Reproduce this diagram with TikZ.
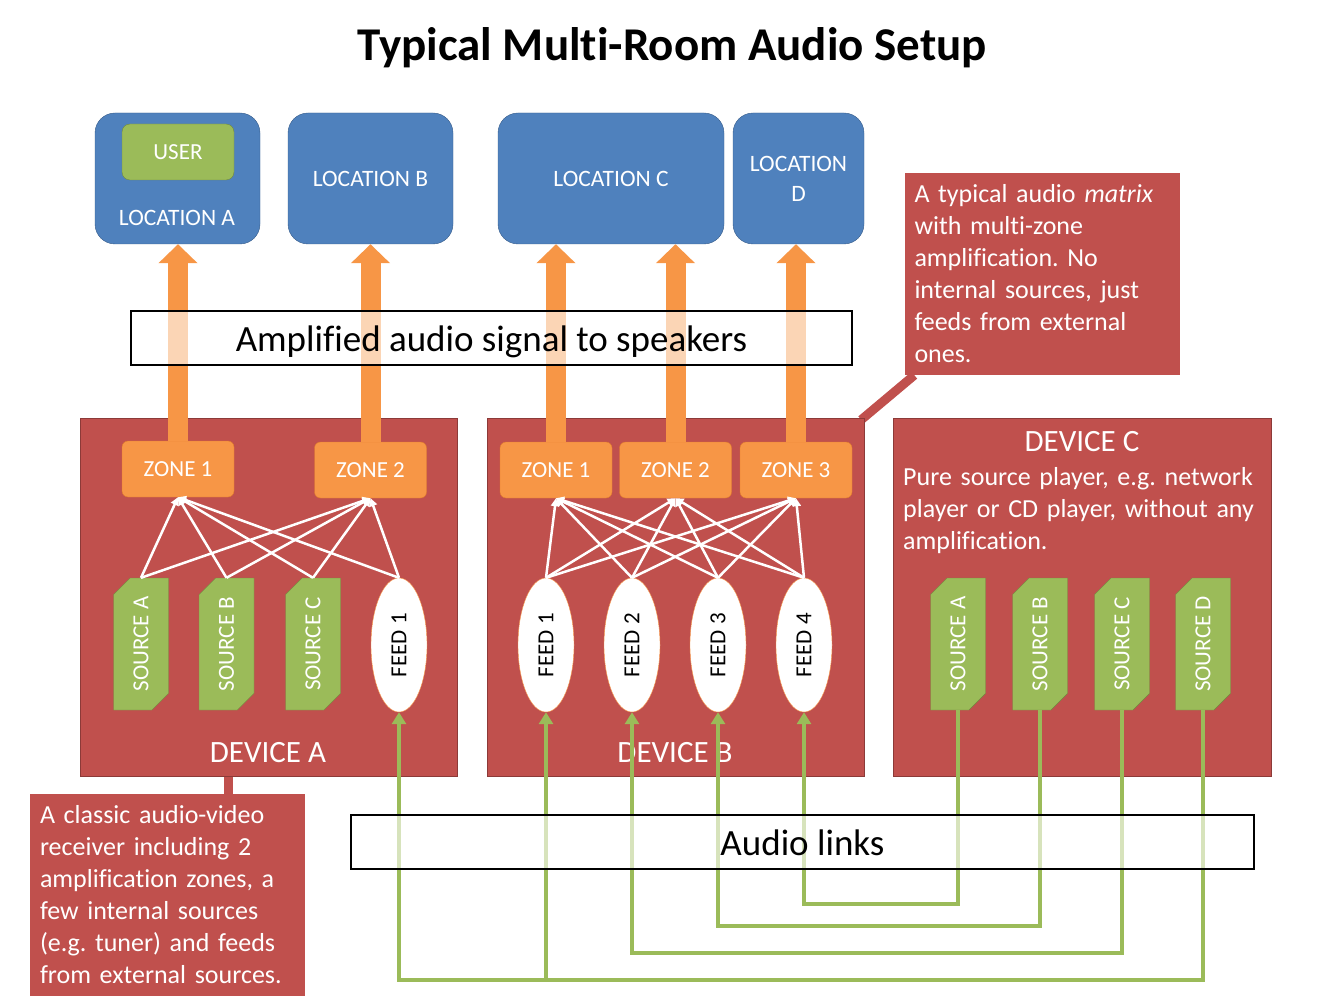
\documentclass[tikz,border=0pt]{standalone}
\usepackage{fontspec}
\setmainfont{Carlito}[Ligatures=NoCommon]
\usetikzlibrary{arrows.meta,shapes.geometric,shapes.misc,positioning,calc,backgrounds}
\definecolor{devred}{HTML}{C0504D}
\definecolor{devredline}{HTML}{8C3A38}
\definecolor{locblue}{HTML}{4F81BD}
\definecolor{locblueline}{HTML}{385D8A}
\definecolor{srcgreen}{HTML}{9BBB59}
\definecolor{srcgreenline}{HTML}{71893F}
\definecolor{zoneorange}{HTML}{F79646}
\definecolor{zoneorangeline}{HTML}{E07B2C}
\frenchspacing

\begin{document}
\begin{tikzpicture}[x=1pt,y=-1pt]

\tikzset{locnode/.style={draw=locblueline,fill=locblue,rounded corners=20pt,text=white,font=\fontsize{23.5}{30}\selectfont,inner sep=0pt,minimum height=131pt,align=center},
usernode/.style={draw=srcgreenline,fill=srcgreen,rounded corners=8pt,text=white,font=\fontsize{23}{28}\selectfont,inner sep=0pt,minimum width=112pt,minimum height=56pt},
devnode/.style={draw=devredline,fill=devred,inner sep=0pt,minimum width=377pt,minimum height=358pt},
devtext/.style={text=white,font=\fontsize{31}{36}\selectfont,inner sep=0pt},
zonenode/.style={draw=zoneorangeline,fill=zoneorange,rounded corners=6pt,text=white,font=\fontsize{23}{28}\selectfont,inner sep=0pt,minimum width=112pt,minimum height=56pt},
srcnode/.style={chamfered rectangle,chamfered rectangle corners={north east,south west},chamfered rectangle xsep=9pt,chamfered rectangle ysep=9pt,draw=srcgreenline,fill=srcgreen,text=white,font=\fontsize{23}{28}\selectfont,inner sep=0pt,minimum width=132pt,minimum height=55pt,rotate=90},
feednode/.style={ellipse,draw=zoneorange,fill=white,text=black,font=\fontsize{23}{28}\selectfont,inner sep=0pt,minimum width=134pt,minimum height=56pt,rotate=90},
labelbox/.style={draw=black,line width=2pt,fill=white,fill opacity=0.6,text opacity=1,font=\fontsize{37}{40}\selectfont,inner sep=0pt,text height=33pt,text depth=7pt,minimum height=54pt},
callnode/.style={fill=devred,text=white,font=\fontsize{26}{32}\selectfont,align=left,inner xsep=10pt,inner ysep=0pt,text width=255pt,minimum height=202pt},
callptr/.style={draw=devred,line width=9pt},
mixlink/.style={draw=white,line width=2.5pt,-{Triangle[length=8pt,width=8pt]}},
amparrow/.style={draw=zoneorange,line width=20pt,-{Triangle[length=19pt,width=38pt]}},
feedlink/.style={draw=srcgreen,line width=4pt,-{Triangle[length=12pt,width=14pt]}}}

\useasboundingbox (0,0) rectangle (1344,1008);

% Title
\node[font=\fontsize{47}{52}\selectfont\bfseries] (title) at (672,48) {Typical Multi-Room Audio Setup};

% Locations
\node[locnode,minimum width=165pt] (locA) at (177.5,178.5) {};
\node[usernode] (user) at (178,152) {USER};
\node[text=white,font=\fontsize{23.5}{28}\selectfont,inner sep=0pt] (locAtext) at (177,218) {LOCATION A};
\node[locnode,minimum width=165pt] (locB) at (370.5,178.5) {LOCATION B};
\node[locnode,minimum width=226pt] (locC) at (611,178.5) {LOCATION C};
\node[locnode,minimum width=131pt] (locD) at (798.5,178.5) {LOCATION\\D};

% Devices
\node[devnode] (devA) at (268.5,597) {};
\node[devnode] (devB) at (675.5,597) {};
\node[devnode,minimum width=378pt] (devC) at (1082,597) {};
\node[devtext] (devAtext) at (268,753) {DEVICE A};
\node[devtext] (devBtext) at (675,753) {DEVICE B};
\node[devtext] (devCtext) at (1082,442) {DEVICE C};
\node[text=white,font=\fontsize{26}{32}\selectfont,text width=370pt,align=left,inner sep=0pt,anchor=north west] (devCinfo) at (903,467) {Pure source player, e.g. network\\player or CD player, without any\\amplification.};

% Zones
\node[zonenode] (zA1) at (178,469) {ZONE 1};
\node[zonenode] (zA2) at (370.5,470) {ZONE 2};
\foreach \i/\x in {1/556,2/675.5,3/796} \node[zonenode] (zB\i) at (\x,470) {ZONE \i};

% Sources and feeds (rotated: east is the top, west the bottom)
\foreach \i/\x/\n in {1/141/A,2/226.5/B,3/313/C} \node[srcnode] (sA\i) at (\x,644) {SOURCE \n};
\node[feednode] (fA1) at (399,645) {FEED 1};
\foreach \i/\x in {1/546,2/632,3/718,4/804} \node[feednode] (fB\i) at (\x,645) {FEED \i};
\foreach \i/\x/\n in {1/958/A,2/1040/B,3/1122/C,4/1203/D} \node[srcnode] (sC\i) at (\x,644) {SOURCE \n};

% Matrix links
\foreach \s in {sA1,sA2,sA3,fA1} \foreach \z in {zA1,zA2} \draw[mixlink] (\s.east) -- (\z.south);
\foreach \f in {1,...,4} \foreach \z in {1,2,3} \draw[mixlink] (fB\f.east) -- (zB\z.south);

% Amplified outputs
\foreach \z/\l in {zA1/locA,zA2/locB,zB1/locC,zB2/locC,zB3/locD} \draw[amparrow] (\z.north) -- (\z.north |- \l.south);
\node[labelbox,minimum width=721pt] (ampbox) at (491.5,338) {Amplified audio signal to speakers};

% Audio links
\coordinate (busA) at (0,904);
\coordinate (busB) at (0,926);
\coordinate (busC) at (0,953);
\coordinate (busD) at (0,980);
\draw[feedlink] (sC1.west) -- (sC1.west |- busA) -| (fB4.west);
\draw[feedlink] (sC2.west) -- (sC2.west |- busB) -| (fB3.west);
\draw[feedlink] (sC3.west) -- (sC3.west |- busC) -| (fB2.west);
\draw[feedlink] (sC4.west) -- (sC4.west |- busD) -| (fA1.west);
\draw[feedlink] (fB1.west |- busD) -- (fB1.west);
\node[labelbox,minimum width=903pt] (linkbox) at (802.5,842) {Audio links};

% Callouts
\node[callnode] (callB) at (1042,274) {A typical audio \textit{matrix}\\with multi-zone\\amplification.\ No\\internal sources, just\\feeds from external\\ones.};
\node[callnode] (callA) at (167.5,895) {A classic audio-video\\receiver including 2\\amplification zones, a\\few internal sources\\(e.g. tuner) and feeds\\from external sources.};
\coordinate (ptrA) at (228,0);
\begin{scope}[on background layer]
\draw[callptr] ($(callB.south west)+(10,0)$) -- ($(devB.north east)+(-3,2)$);
\draw[callptr] (callA.north -| ptrA) -- (devA.south -| ptrA);
\end{scope}

\end{tikzpicture}
\end{document}
